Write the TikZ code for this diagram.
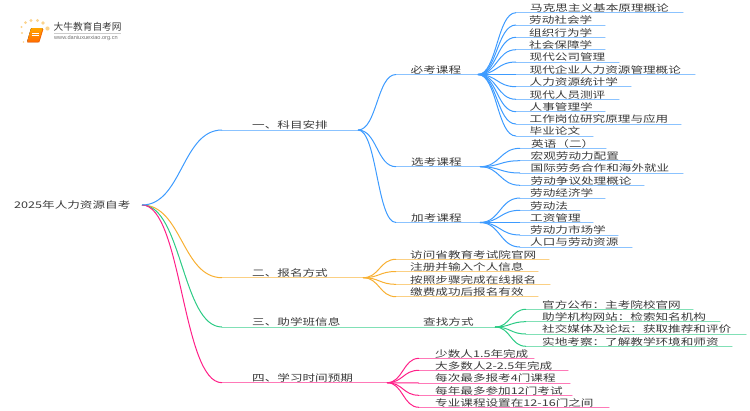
\documentclass[tikz,border=0pt]{standalone}
\usepackage{fontspec}
\setmainfont{Noto Sans CJK SC}[FakeStretch=1.37]
\newfontfamily\logofont{Noto Sans CJK SC}
\newfontfamily\urlfont{Liberation Sans}
\definecolor{cblue}{HTML}{3D9BFF}
\definecolor{corange}{HTML}{F8B032}
\definecolor{cgreen}{HTML}{2CCB85}
\definecolor{cpink}{HTML}{FF2088}
\definecolor{ctext}{HTML}{3A3A3A}
\tikzset{
  label/.style={anchor=base west,inner sep=0pt,text=ctext,font=\fontsize{9.2}{11}\selectfont},
  curveline/.style={line width=1pt},
  straightline/.style={line width=1pt,line cap=round},
}
% \leaf{fork}{name}{y}{x of curve end}{x of line end}{text x}{colour}{text}
\newcommand{\leaf}[8]{%
  \coordinate (#2a) at (#4,#3);
  \coordinate (#2b) at (#5,#3);
  \node[label] (#2) at (#6,#3-1.2) {#8};
  \draw[straightline,#7!60] (#2a) -- (#2b);
  \draw[curveline,#7] (#1) .. controls ($(#1)!0.5!(#2a |- #1)$) and ($(#2a)!0.5!(#1 |- #2a)$) .. (#2a);
}
\usetikzlibrary{calc}
\begin{document}
\begin{tikzpicture}[x=1pt,y=-1pt]
\useasboundingbox (0,0) rectangle (750,410);
% logo
\fill[corange!55] (22,33) circle (1.1) (21.5,27) circle (1.2) (25.5,22.5) circle (1.5) (31,20.5) circle (1.6) (37.5,20.5) circle (1.7) (43,23) circle (1.8) (47.5,28.5) circle (2.1) (23.5,42) circle (0.9);
\fill[rounded corners=1pt,top color=orange!70!yellow,bottom color=orange!85!red] (31,28) -- (43,28) -- (39,42) -- (27,42) -- cycle;
\draw[white,line width=0.5pt] (32,33) -- (39,33) (31.5,35) -- (38.5,35);
\draw[orange!80!red,line width=0.8pt] (27,42) -- (39,42) -- (43,29);
\node[inner sep=0pt,anchor=west,text=ctext,font=\logofont\fontsize{9.7}{11}\selectfont] (logoname) at (53.5,27) {大牛教育自考网};
\draw[black!20,line width=0.5pt] (54,33) -- (121,33);
\node[inner sep=0pt,anchor=west,text=black!55,font=\urlfont\fontsize{5.6}{7}\selectfont] (logourl) at (54,38.5) {www.daniuxuexiao.org.cn};
% root
\node[label] (root) at (14,208.5) {2025年人力资源自考};
\coordinate (o) at (142,205);
% level one
\coordinate (f1) at (358,130);
\coordinate (f2) at (363,277.7);
\coordinate (f3) at (495,327);
\coordinate (f4) at (387,382.7);
\leaf{o}{b2}{277.7}{222}{363}{252}{corange}{二、报名方式}
\leaf{o}{b3}{327}{222}{495}{252}{cgreen}{三、助学班信息}
\leaf{o}{b4}{382.7}{222}{387}{252}{cpink}{四、学习时间预期}
\leaf{o}{b1}{130}{222}{358}{252}{cblue}{一、科目安排}
% level two, blue
\coordinate (g1) at (478,74.5);
\coordinate (g2) at (480,166.7);
\coordinate (g3) at (480,222.5);
\leaf{f1}{m}{74.5}{396}{478}{410.5}{cblue}{必考课程}
\leaf{f1}{x}{166.7}{396}{480}{411}{cblue}{选考课程}
\leaf{f1}{j}{222.5}{396}{480}{411}{cblue}{加考课程}
% required
\leaf{g1}{ma}{12.7}{516}{683}{530}{cblue}{马克思主义基本原理概论}
\leaf{g1}{mb}{25}{516}{605}{529}{cblue}{劳动社会学}
\leaf{g1}{mc}{37.3}{516}{605}{529}{cblue}{组织行为学}
\leaf{g1}{md}{49.7}{516}{605}{529}{cblue}{社会保障学}
\leaf{g1}{me}{62}{516}{619}{529.5}{cblue}{现代公司管理}
\leaf{g1}{mf}{74.5}{516}{695}{529.5}{cblue}{现代企业人力资源管理概论}
\leaf{g1}{mg}{86.7}{516}{631}{529.5}{cblue}{人力资源统计学}
\leaf{g1}{mh}{99.3}{516}{619}{529.5}{cblue}{现代人员测评}
\leaf{g1}{mi}{111.7}{516}{605}{529.5}{cblue}{人事管理学}
\leaf{g1}{mj}{124}{516}{681}{529.5}{cblue}{工作岗位研究原理与应用}
\leaf{g1}{mk}{136}{516}{593}{529.5}{cblue}{毕业论文}
% elective
\leaf{g2}{xa}{148.3}{520}{606}{531}{cblue}{英语（二）}
\leaf{g2}{xb}{160.7}{520}{632}{530.5}{cblue}{宏观劳动力配置}
\leaf{g2}{xc}{173}{520}{683}{530.5}{cblue}{国际劳务合作和海外就业}
\leaf{g2}{xd}{185.3}{520}{644}{530.5}{cblue}{劳动争议处理概论}
% additional
\leaf{g3}{ja}{198}{520}{605}{530}{cblue}{劳动经济学}
\leaf{g3}{jb}{210.3}{520}{580}{530}{cblue}{劳动法}
\leaf{g3}{jc}{222.5}{520}{593}{530}{cblue}{工资管理}
\leaf{g3}{jd}{235}{520}{618}{530}{cblue}{劳动力市场学}
\leaf{g3}{je}{247}{520}{632}{530}{cblue}{人口与劳动资源}
% orange
\leaf{f2}{oa}{259.3}{396}{549}{410}{corange}{访问省教育考试院官网}
\leaf{f2}{ob}{271.5}{396}{538}{410}{corange}{注册并输入个人信息}
\leaf{f2}{oc}{284.3}{396}{550}{410}{corange}{按照步骤完成在线报名}
\leaf{f2}{od}{296.7}{396}{538}{410}{corange}{缴费成功后报名有效}
% green
\node[label] (find) at (423,325.8) {查找方式};
\leaf{f3}{ga}{309.3}{526}{693}{542}{cgreen}{官方公布：主考院校官网}
\leaf{f3}{gb}{321.7}{526}{720}{542}{cgreen}{助学机构网站：检索知名机构}
\leaf{f3}{gc}{334}{526}{746}{542}{cgreen}{社交媒体及论坛：获取推荐和评价}
\leaf{f3}{gd}{346.3}{526}{732}{542}{cgreen}{实地考察：了解教学环境和师资}
% pink
\leaf{f4}{pa}{358.3}{419}{534}{435}{cpink}{少数人1.5年完成}
\leaf{f4}{pb}{370.3}{419}{568}{435}{cpink}{大多数人2-2.5年完成}
\leaf{f4}{pc}{383}{419}{570}{435}{cpink}{每次最多报考4门课程}
\leaf{f4}{pd}{395.3}{419}{572}{435}{cpink}{每年最多参加12门考试}
\leaf{f4}{pe}{407.3}{419}{609}{435}{cpink}{专业课程设置在12-16门之间}
\end{tikzpicture}
\end{document}
